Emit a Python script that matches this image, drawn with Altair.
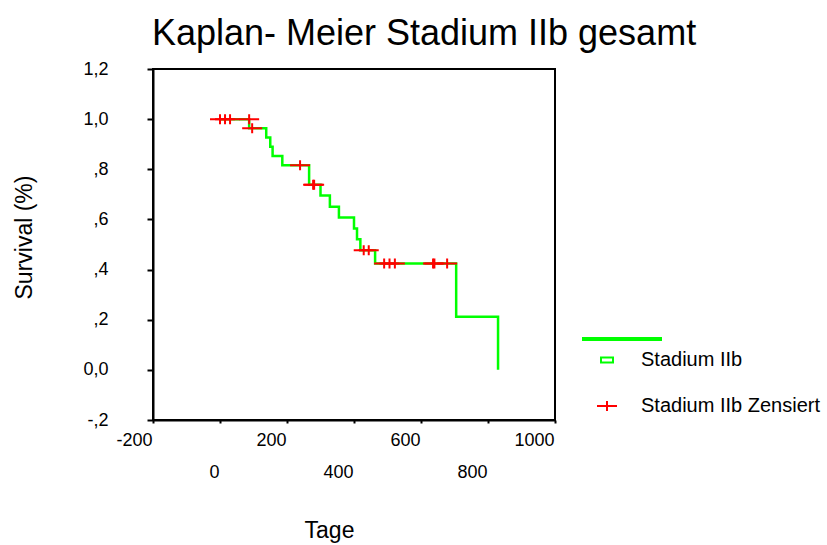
import altair as alt
import pandas as pd

# Kaplan-Meier estimate, Stadium IIb (days vs. cumulative survival)
step_days = [0, 87, 138, 150, 157, 186, 266, 300, 328, 355, 400, 409, 419, 463, 705, 830]
step_survival = [1.0, 0.964, 0.927, 0.890, 0.853, 0.816, 0.738, 0.695, 0.651,
                 0.608, 0.564, 0.521, 0.477, 0.424, 0.212, 0.0]

# censored observations
censored_days = [0, 15, 30, 87, 96, 239, 278, 281, 429, 444, 490, 506, 522, 636, 640, 678]
censored_survival = [1.0, 1.0, 1.0, 1.0, 0.964, 0.816, 0.738, 0.738, 0.477, 0.477,
                     0.424, 0.424, 0.424, 0.424, 0.424, 0.424]

series_names = ["Stadium IIb", "Stadium IIb Zensiert"]
series_colors = ["#00ff00", "#ff0000"]

x_ticks = [-200, 0, 200, 400, 600, 800, 1000]
y_ticks = [-0.2, 0.0, 0.2, 0.4, 0.6, 0.8, 1.0, 1.2]
y_tick_labels = ["-,2", "0,0", ",2", ",4", ",6", ",8", "1,0", "1,2"]

FONT = "Liberation Sans"
RECT_PATH = "M-0.6,-0.25H0.6V0.25H-0.6Z"
CROSS_PATH = "M-1,0H1M0,-0.5V0.5"

curve = pd.DataFrame({"Tage": step_days, "Survival": step_survival})
censored = pd.DataFrame({
    "Tage": censored_days,
    "Survival": censored_survival,
    "Gruppe": [series_names[1]] * len(censored_days),
})

y_label_expr = " : ".join(
    f"abs(datum.value - ({v})) < 0.01 ? '{t}'" for v, t in zip(y_ticks, y_tick_labels)
) + " : ''"

x_scale = alt.Scale(domain=[-200, 1000], nice=False, zero=False)
y_scale = alt.Scale(domain=[-0.2, 1.2], nice=False, zero=False)

x_axis = alt.Axis(
    values=x_ticks, title="Tage", grid=False, labelFlush=False, labelOverlap=False,
    labelExpr="'' + datum.value",
    labelAlign="right", labelOffset=-1, labelFontSize=18, tickSize=3,
    labelPadding={"condition": {"test": "datum.value % 400 == 0", "value": 40}, "value": 8},
    titleFontSize=23, titleFontWeight="normal", titleX=176, titleY=117,
    titleBaseline="alphabetic", titleAnchor="start", titleAlign="center",
)
y_axis = alt.Axis(
    values=y_ticks, title="Survival (%)", grid=False, labelExpr=y_label_expr,
    labelFontSize=18, tickSize=6, labelPadding=39, labelOverlap=False, labelFlush=False,
    titleFontSize=23, titleFontWeight="normal", titleAngle=-90, titleX=-122, titleY=168,
    titleBaseline="alphabetic", titleAlign="center",
)

line = alt.Chart(curve).mark_line(
    interpolate="step-after", color=series_colors[0], strokeWidth=2.5
).encode(
    x=alt.X("Tage:Q", scale=x_scale, axis=x_axis),
    y=alt.Y("Survival:Q", scale=y_scale, axis=y_axis),
)

legend = alt.Legend(
    title=None, orient="none", legendX=443, legendY=280, padding=0,
    labelFontSize=20, labelFont=FONT, labelLimit=400, symbolSize=400, symbolStrokeWidth=2,
    rowPadding=25, labelOffset=23,
)

marks = alt.Chart(censored).mark_point(
    filled=False, size=400, strokeWidth=2, opacity=1
).encode(
    x=alt.X("Tage:Q", scale=x_scale, axis=x_axis),
    y=alt.Y("Survival:Q", scale=y_scale, axis=y_axis),
    color=alt.Color("Gruppe:N", scale=alt.Scale(domain=series_names, range=series_colors),
                    legend=legend),
    shape=alt.Shape("Gruppe:N", scale=alt.Scale(domain=series_names, range=[RECT_PATH, CROSS_PATH]),
                    legend=legend),
)

# short green stroke shown above the legend entries
legend_line = alt.Chart(curve).mark_rule(color=series_colors[0], strokeWidth=2.7).encode(
    x=alt.value(429), x2=alt.value(509), y=alt.value(270)
)

chart = alt.layer(line, marks, legend_line).properties(
    width=402,
    height=351,
    autosize="none",
    padding={"left": 153, "top": 69, "right": 272, "bottom": 125},
    title=alt.TitleParams(
        "Kaplan- Meier Stadium IIb gesamt", fontSize=36, font=FONT, fontWeight="normal",
        color="black", anchor="middle", dx=70, dy=36, baseline="alphabetic", offset=15,
    ),
).configure(
    font=FONT,
    background="white",
).configure_view(
    stroke="black", strokeWidth=2,
).configure_axis(
    labelFont=FONT, titleFont=FONT, labelColor="black", titleColor="black",
    domainColor="black", domainWidth=2, tickColor="black", tickWidth=2,
).configure_axisY(
    labelPadding=39,
)

chart.save("out.html", embed_options={"renderer": "svg", "actions": False})
